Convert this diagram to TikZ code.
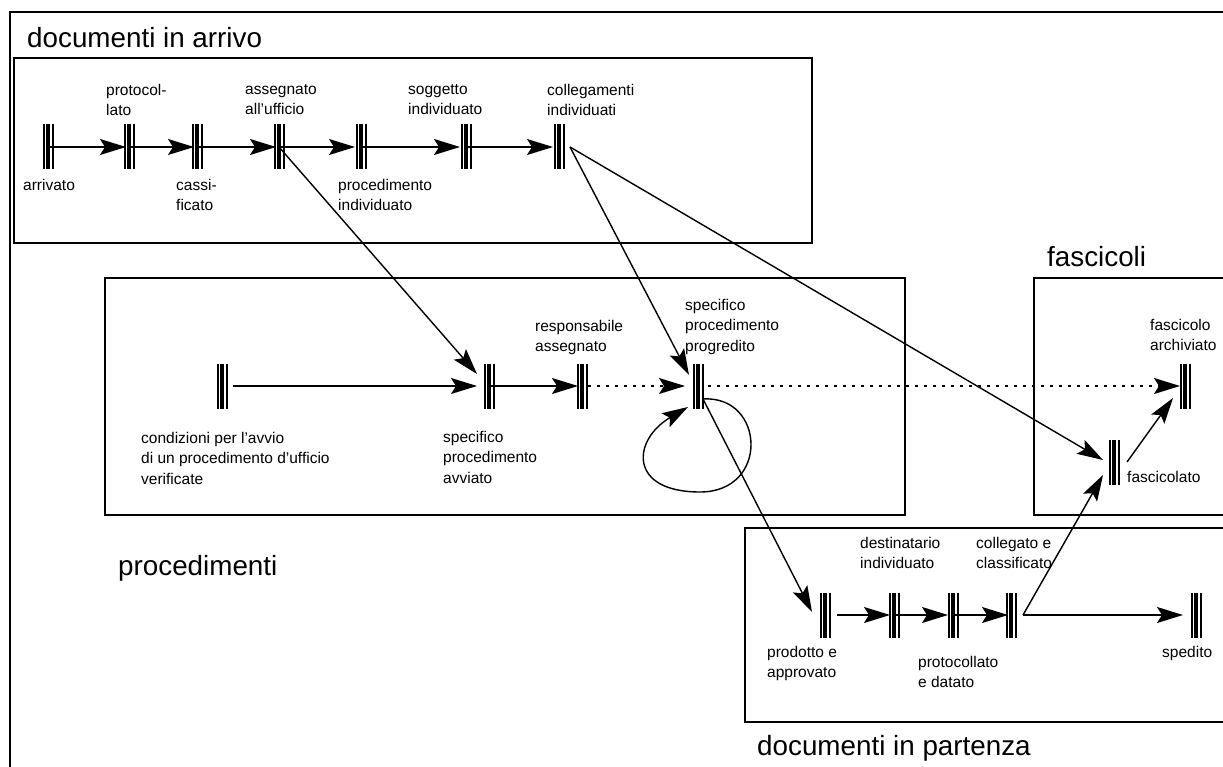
\documentclass[tikz,border=0pt]{standalone}
\usepackage{fontspec}
\setmainfont{Liberation Sans}
\usetikzlibrary{arrows.meta}
\begin{document}
\begin{tikzpicture}[x=1pt,y=-1pt,
  st/.style={rectangle, minimum width=12pt, minimum height=45pt, inner sep=0pt,
    path picture={
      \fill ([xshift=-5.5pt,yshift=-22.5pt]path picture bounding box.center) rectangle ++(2pt,45pt);
      \fill ([xshift=-1.8pt,yshift=-22.5pt]path picture bounding box.center) rectangle ++(3.6pt,45pt);
      \fill ([xshift=3.5pt,yshift=-22.5pt]path picture bounding box.center) rectangle ++(2pt,45pt);
    }},
  lbl/.style={anchor=north west, inner sep=0pt, align=left, font=\fontsize{15.5}{20.5}\selectfont},
  big/.style={anchor=base west, inner sep=0pt, font=\fontsize{27.8}{33}\selectfont},
  arr/.style={line width=1.4pt, -{Stealth[length=26pt,width=16pt,inset=5pt]}},
  dotarr/.style={arr, dash pattern=on 2.5pt off 6.5pt},
  box/.style={draw, line width=1.7pt}]
\useasboundingbox (0,0) rectangle (1223,767);
\clip (0,0) rectangle (1223,767);

% frames
\draw[line width=2pt] (10,790) -- (10,12) -- (1240,12);
\draw[box] (14,58) rectangle (812,243);
\draw[box] (105,278) rectangle (905,515);
\draw[box] (1034,278) rectangle (1240,515);
\draw[box] (745,528) rectangle (1240,722);

% group titles
\node[big] (tarr) at (27,48) {documenti in arrivo};
\node[big] (tproc) at (118,575) {procedimenti};
\node[big] (tfasc) at (1047,267) {fascicoli};
\node[big] (tpart) at (757,755) {documenti in partenza};

% states: documenti in arrivo
\node[st] (a1) at (48,147) {};
\node[st] (a2) at (129,147) {};
\node[st] (a3) at (197,147) {};
\node[st] (a4) at (279,147) {};
\node[st] (a5) at (361,147) {};
\node[st] (a6) at (466,147) {};
\node[st] (a7) at (559,147) {};

% states: procedimenti
\node[st] (p0) at (222,386) {};
\node[st] (p1) at (489,386) {};
\node[st] (p2) at (582,386) {};
\node[st] (p3) at (698,386) {};

% states: fascicoli
\node[st] (f1) at (1114,462) {};
\node[st] (f2) at (1185,386) {};

% states: documenti in partenza
\node[st] (d1) at (825,615) {};
\node[st] (d2) at (894,615) {};
\node[st] (d3) at (953,615) {};
\node[st] (d4) at (1011,615) {};
\node[st] (d5) at (1196,615) {};

% labels
\node[lbl] (la2) at (106,84) {protocol-\\lato};
\node[lbl] (la4) at (245,84) {assegnato\\all’ufficio};
\node[lbl] (la6) at (408,84) {soggetto\\individuato};
\node[lbl] (la7) at (547,84) {collegamenti\\individuati};
\node[lbl] (la1) at (23,179) {arrivato};
\node[lbl] (la3) at (176,179) {cassi-\\ficato};
\node[lbl] (la5) at (338,179) {procedimento\\individuato};

\node[lbl] (lp0) at (141,432) {condizioni per l’avvio\\di un procedimento d’ufficio\\verificate};
\node[lbl] (lp1) at (443,431) {specifico\\procedimento\\avviato};
\node[lbl] (lp2) at (535,320) {responsabile\\assegnato};
\node[lbl] (lp3) at (685,299) {specifico\\procedimento\\progredito};

\node[lbl] (lf2) at (1150,319) {fascicolo\\archiviato};
\node[lbl] (lf1) at (1127,471) {fascicolato};

\node[lbl] (ld2) at (860,537) {destinatario\\individuato};
\node[lbl] (ld4) at (976,537) {collegato e\\classificato};
\node[lbl] (ld1) at (767,646) {prodotto e\\approvato};
\node[lbl] (ld3) at (918,656) {protocollato\\e datato};
\node[lbl] (ld5) at (1162,646) {spedito};

% helper coordinates
\coordinate (a7out) at ([xshift=11pt]a7.center);
\coordinate (p0out) at ([xshift=11pt]p0.center);
\coordinate (p2out) at ([xshift=6pt]p2.center);
\coordinate (p3out) at ([xshift=10pt]p3.center);
\coordinate (p3low) at ([shift={(5,13)}]p3.center);
\coordinate (f1out) at ([xshift=13pt]f1.center);
\coordinate (d1out) at ([xshift=12pt]d1.center);
\coordinate (d4out) at ([xshift=12pt]d4.center);

% connectors: arrivo
\draw[arr] (a1.center) -- ([xshift=-3pt]a2.center);
\draw[arr] (a2.center) -- ([xshift=-3pt]a3.center);
\draw[arr] (a3.center) -- ([xshift=-3pt]a4.center);
\draw[arr] (a4.center) -- ([xshift=-6pt]a5.center);
\draw[arr] (a5.center) -- ([xshift=-6pt]a6.center);
\draw[arr] (a6.center) -- ([xshift=-6pt]a7.center);

% cross connectors
\draw[arr] (a4.center) -- ([shift={(-12,-12)}]p1.center);
\draw[arr] (a7out) -- ([shift={(-9,-11)}]p3.center);
\draw[arr] (a7out) -- ([shift={(-11,-2)}]f1.center);

% procedimenti
\draw[arr] (p0out) -- ([xshift=-12pt]p1.center);
\draw[arr] (p1.center) -- ([xshift=-4pt]p2.center);
\draw[dotarr] (p2out) -- ([xshift=-13pt]p3.center);
\draw[dotarr] (p3out) -- ([xshift=-5pt]f2.center);
\draw[arr] (p3low) .. controls (765,395) and (770,492) .. (700,492)
  .. controls (628,492) and (632,440) .. ([shift={(-10,21)}]p3.center);
\draw[arr] (p3low) -- ([shift={(-13,-3)}]d1.center);

% fascicoli
\draw[arr] (f1out) -- ([shift={(-12,12)}]f2.center);

% partenza
\draw[arr] (d1out) -- ([xshift=-4pt]d2.center);
\draw[arr] (d2.center) -- ([xshift=-5pt]d3.center);
\draw[arr] (d3.center) -- ([xshift=-3pt]d4.center);
\draw[arr] (d4out) -- ([xshift=-13pt]d5.center);
\draw[arr] (d4out) -- ([shift={(-11,13)}]f1.center);
\end{tikzpicture}
\end{document}
